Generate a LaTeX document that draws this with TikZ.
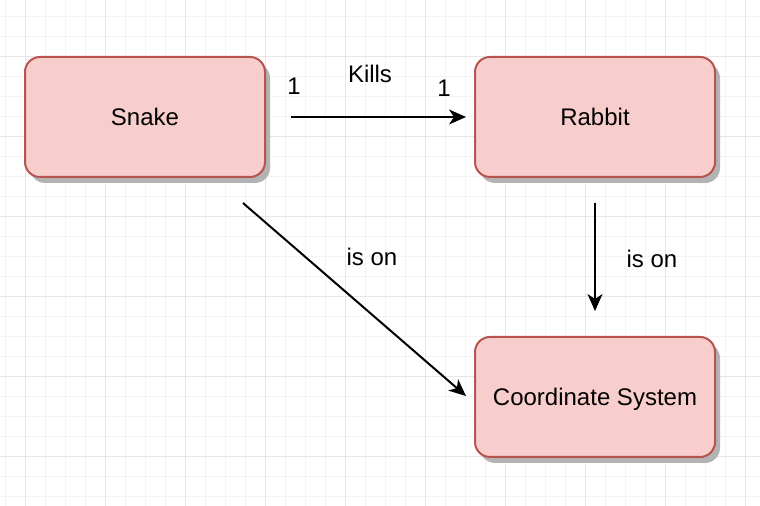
\documentclass[tikz,border=0pt]{standalone}
\usepackage{fontspec}
\setmainfont{Liberation Sans}
\usetikzlibrary{arrows.meta,shadows}
\definecolor{boxfill}{HTML}{F8CECC}
\definecolor{boxdraw}{HTML}{B85450}
\definecolor{gridminor}{HTML}{F3F3F3}
\definecolor{gridmajor}{HTML}{E6E6E6}
\definecolor{shadowgray}{HTML}{B3B3B3}
\tikzset{
  entity/.style={draw=boxdraw, fill=boxfill, line width=1pt, rounded corners=7.5pt,
    minimum width=120pt, minimum height=60pt, inner sep=0pt, text depth=0pt,
    font=\fontsize{12}{14}\selectfont,
    drop shadow={shadow xshift=2.5pt, shadow yshift=-3pt, fill=shadowgray, opacity=1}},
  rel/.style={line width=1pt, -{Stealth[length=8.5pt, width=7.5pt, inset=2.5pt]}},
  lbl/.style={anchor=base, inner sep=0pt, font=\fontsize{12}{14}\selectfont},
}
\begin{document}
\begin{tikzpicture}[x=0.5pt, y=-0.5pt]
\useasboundingbox (0,0) rectangle (760,506);
\fill[white] (0,0) rectangle (760,506);
% grid
\foreach \gx in {5,25,...,745} \draw[gridminor, line width=0.5pt] (\gx,0) -- (\gx,506);
\foreach \gy in {17,37,...,497} \draw[gridminor, line width=0.5pt] (0,\gy) -- (760,\gy);
\foreach \gx in {25,105,...,745} \draw[gridmajor, line width=0.5pt] (\gx,0) -- (\gx,506);
\foreach \gy in {57,137,...,457} \draw[gridmajor, line width=0.5pt] (0,\gy) -- (760,\gy);
% entities
\node[entity] (snake) at (145,117) {Snake};
\node[entity] (rabbit) at (595,117) {Rabbit};
\node[entity] (cs) at (595,397) {Coordinate System};
% connector ends
\coordinate (k1) at (291,117);
\coordinate (k2) at (466,117);
\coordinate (r1) at (595,203);
\coordinate (r2) at (595,311);
\coordinate (s1) at (243,203);
\coordinate (s2) at (466,396);
\draw[rel] (k1) -- (k2);
\draw[rel] (r1) -- (r2);
\draw[rel] (s1) -- (s2);
% labels
\node[lbl] (m1) at (294,95) {1};
\node[lbl] (kills) at (370,83) {Kills};
\node[lbl] (m2) at (444,97) {1};
\node[lbl] (ison1) at (652,268) {is on};
\node[lbl] (ison2) at (372,266) {is on};
\end{tikzpicture}
\end{document}
